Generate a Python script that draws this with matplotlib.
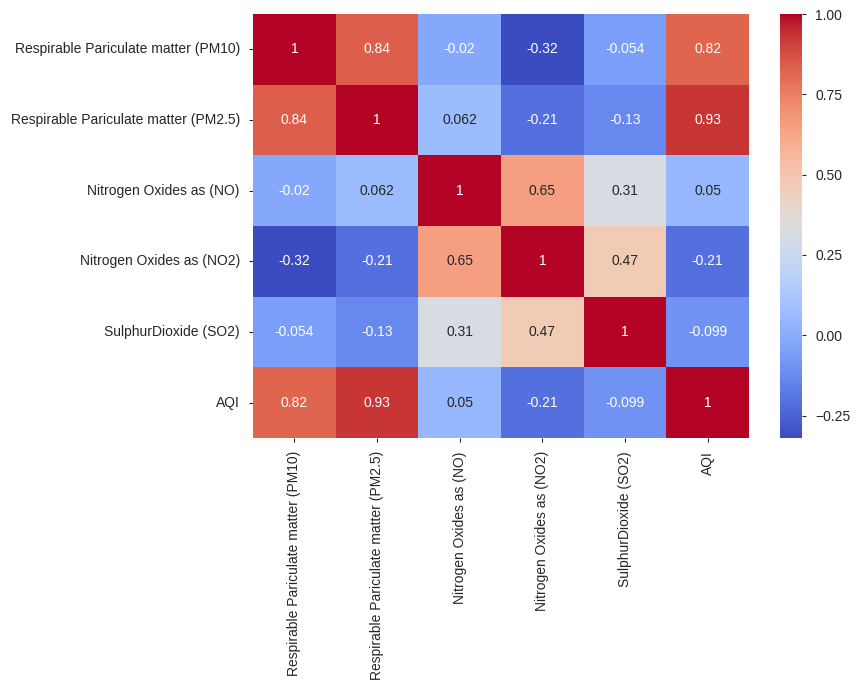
import numpy as np
import pandas as pd
import matplotlib.pyplot as plt
import seaborn as sns

# Correlation matrix of pollutants vs AQI
labels = [
    'Respirable Pariculate matter (PM10)',
    'Respirable Pariculate matter (PM2.5)',
    'Nitrogen Oxides as (NO)',
    'Nitrogen Oxides as (NO2)',
    'SulphurDioxide (SO2)',
    'AQI',
]

row_pm10 = [1, 0.84, -0.02, -0.32, -0.054, 0.82]
row_pm25 = [0.84, 1, 0.062, -0.21, -0.13, 0.93]
row_no = [-0.02, 0.062, 1, 0.65, 0.31, 0.05]
row_no2 = [-0.32, -0.21, 0.65, 1, 0.47, -0.21]
row_so2 = [-0.054, -0.13, 0.31, 0.47, 1, -0.099]
row_aqi = [0.82, 0.93, 0.05, -0.21, -0.099, 1]

corr = pd.DataFrame([row_pm10, row_pm25, row_no, row_no2, row_so2, row_aqi],
                    index=labels, columns=labels)

sns.set_style('ticks')
plt.rcParams['font.family'] = ['Liberation Sans', 'DejaVu Sans']
plt.rcParams['font.size'] = 10

fig = plt.figure(figsize=(8.61, 6.91), dpi=100)
ax = fig.add_axes([253 / 861, 1 - 438 / 691, 496 / 861, 424 / 691])
cax = fig.add_axes([780 / 861, 1 - 438 / 691, 22 / 861, 424 / 691])

sns.heatmap(corr, annot=True, cmap='coolwarm', ax=ax, cbar_ax=cax,
            annot_kws={'fontsize': 10})

ax.tick_params(axis='both', labelsize=10, length=3, pad=6.5, color='.15',
               labelcolor='.15')
cax.tick_params(labelsize=10, length=3, pad=6.5, color='.15', labelcolor='.15')
cax.set_yticks([-0.25, 0.0, 0.25, 0.5, 0.75, 1.0])
cax.set_yticklabels(['\u22120.25', '0.00', '0.25', '0.50', '0.75', '1.00'])

fig.savefig('out.png', dpi=100)
